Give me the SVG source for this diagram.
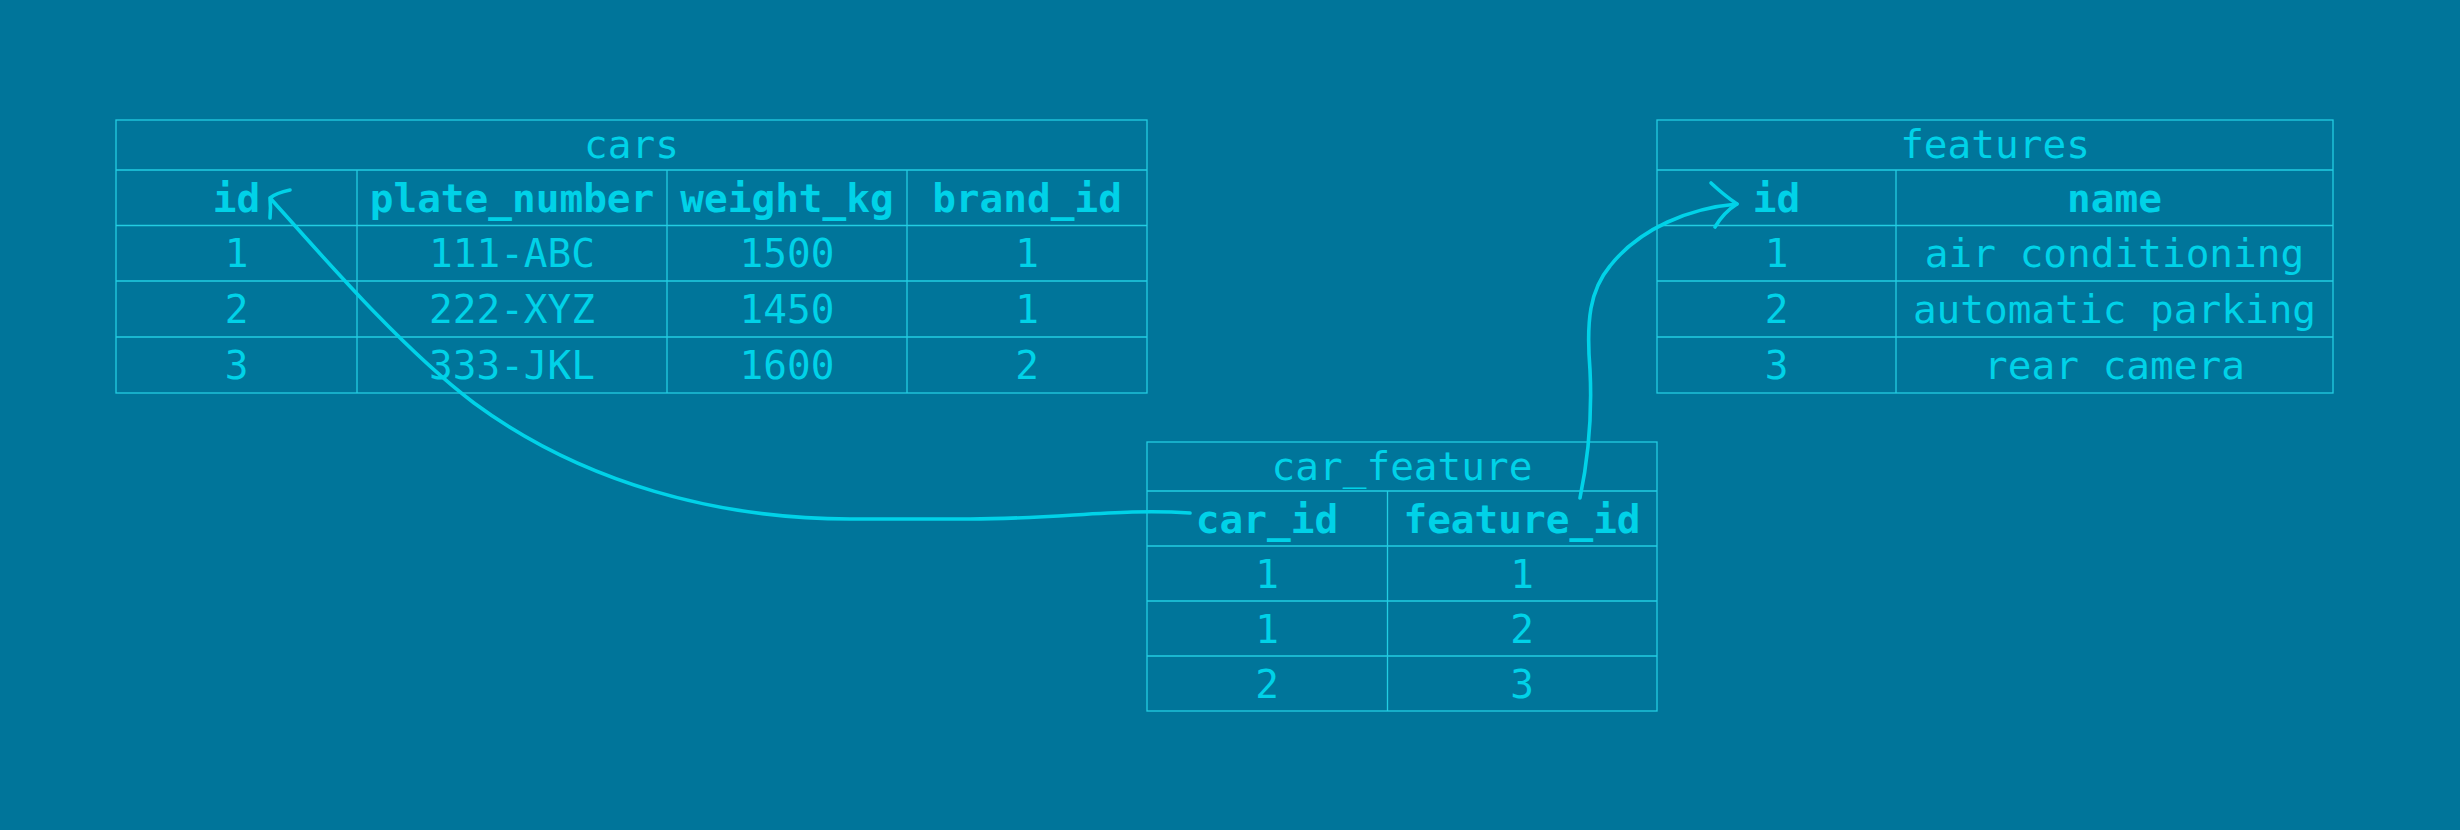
<svg xmlns="http://www.w3.org/2000/svg" width="2460" height="830" viewBox="0 0 2460 830">
<style>
.bg{fill:#00759a}
.grid{fill:none;stroke:#22cde2;stroke-width:1.3}
.t{font-family:"DejaVu Sans Mono","Liberation Mono",monospace;font-size:39.4px;fill:#00d2e8;text-anchor:middle}
.h{font-weight:bold}
.conn{fill:none;stroke:#00d2e8;stroke-width:3.6;stroke-linecap:round;stroke-linejoin:round}
</style>
<rect class="bg" x="0" y="0" width="2460" height="830"/>

<g id="cars">
<rect class="grid" x="116" y="120" width="1031" height="273"/>
<path class="grid" d="M116 170H1147M116 225.5H1147M116 281H1147M116 337H1147M357 170V393M667 170V393M907 170V393"/>
<text class="t" x="631.5" y="158">cars</text>
<text class="t h" x="236.5" y="211.5">id</text>
<text class="t h" x="512" y="211.5">plate_number</text>
<text class="t h" x="787" y="211.5">weight_kg</text>
<text class="t h" x="1027" y="211.5">brand_id</text>
<text class="t" x="236.5" y="267">1</text>
<text class="t" x="512" y="267">111-ABC</text>
<text class="t" x="787" y="267">1500</text>
<text class="t" x="1027" y="267">1</text>
<text class="t" x="236.5" y="323">2</text>
<text class="t" x="512" y="323">222-XYZ</text>
<text class="t" x="787" y="323">1450</text>
<text class="t" x="1027" y="323">1</text>
<text class="t" x="236.5" y="379">3</text>
<text class="t" x="512" y="379">333-JKL</text>
<text class="t" x="787" y="379">1600</text>
<text class="t" x="1027" y="379">2</text>
</g>

<g id="features">
<rect class="grid" x="1657" y="120" width="676" height="273"/>
<path class="grid" d="M1657 170H2333M1657 225.5H2333M1657 281H2333M1657 337H2333M1896 170V393"/>
<text class="t" x="1995" y="158">features</text>
<text class="t h" x="1776.5" y="211.5">id</text>
<text class="t h" x="2114.5" y="211.5">name</text>
<text class="t" x="1776.5" y="267">1</text>
<text class="t" x="2114.5" y="267">air conditioning</text>
<text class="t" x="1776.5" y="323">2</text>
<text class="t" x="2114.5" y="323">automatic parking</text>
<text class="t" x="1776.5" y="379">3</text>
<text class="t" x="2114.5" y="379">rear camera</text>
</g>

<g id="car_feature">
<rect class="grid" x="1147" y="442" width="510" height="269"/>
<path class="grid" d="M1147 491H1657M1147 546H1657M1147 601H1657M1147 656H1657M1387.5 491V711"/>
<text class="t" x="1402" y="479.5">car_feature</text>
<text class="t h" x="1267" y="532.5">car_id</text>
<text class="t h" x="1522" y="532.5">feature_id</text>
<text class="t" x="1267" y="587.5">1</text>
<text class="t" x="1522" y="587.5">1</text>
<text class="t" x="1267" y="642.5">1</text>
<text class="t" x="1522" y="642.5">2</text>
<text class="t" x="1267" y="697.5">2</text>
<text class="t" x="1522" y="697.5">3</text>
</g>

<g id="connectors">
<path class="conn" d="M1190 513C1120 508 1060 519 970 519L850 519C720 519 584 484 474 403C404 350 330 265 271 199"/>
<path class="conn" d="M290 190Q276 193 270 198Q271 208 270 218"/>
<path class="conn" d="M1580 498C1590 450 1592 410 1590 370C1586 320 1590 290 1610 266C1640 228 1690 208 1737 204"/>
<path class="conn" d="M1711 183Q1725 196 1737 204Q1724 212 1715 227"/>
</g>
</svg>
